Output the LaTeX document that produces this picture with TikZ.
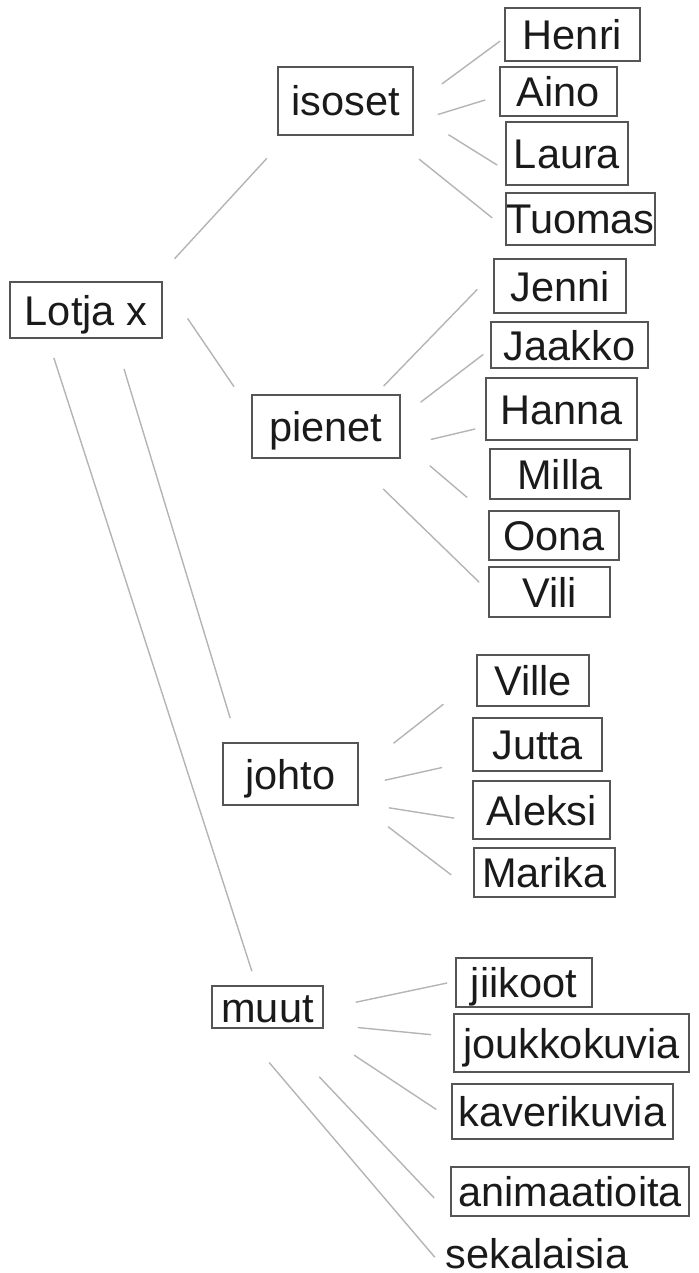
\documentclass[tikz,border=0pt]{standalone}
\usepackage{fontspec}
\newfontfamily\namefont{Liberation Sans}
\usetikzlibrary{positioning}

\definecolor{boxgray}{HTML}{555555}
\definecolor{linkgray}{HTML}{B4B4B4}
\definecolor{inkgray}{HTML}{1A1A1A}

\begin{document}
\begin{tikzpicture}[
    x=0.5pt, y=-0.5pt,
    namebox/.style={
        rectangle,
        draw=boxgray,
        line width=0.85pt,
        inner sep=0pt,
        text height=15pt,
        text depth=0pt,
        text=inkgray,
        font=\namefont\fontsize{20.75pt}{24pt}\selectfont
    },
    link/.style={draw=linkgray, line width=0.7pt}
]
\useasboundingbox (0,0) rectangle (699,1273);

% Root
\node[namebox, minimum width=76pt, minimum height=28pt] (lotja) at (86,310) {Lotja x};

% Groups
\node[namebox, minimum width=67.5pt, minimum height=34pt] (isoset) at (345.5,101) {isoset};
\node[namebox, minimum width=74pt, minimum height=31.5pt] (pienet) at (326,426.5) {pienet};
\node[namebox, minimum width=67.5pt, minimum height=31pt] (johto) at (290.5,774) {johto};
\node[namebox, minimum width=55.5pt, minimum height=21pt] (muut) at (267.5,1007) {muut};

% isoset
\node[namebox, minimum width=67.5pt, minimum height=26.5pt] (henri) at (572.5,34.5) {Henri};
\node[namebox, minimum width=58.5pt, minimum height=24.5pt] (aino) at (558.5,91.5) {Aino};
\node[namebox, minimum width=61pt, minimum height=31.5pt] (laura) at (567,153.5) {Laura};
\node[namebox, minimum width=74.5pt, minimum height=26pt] (tuomas) at (580.5,219) {Tuomas};

% pienet
\node[namebox, minimum width=66pt, minimum height=27pt] (jenni) at (560,286) {Jenni};
\node[namebox, minimum width=78.5pt, minimum height=23pt] (jaakko) at (569.5,345) {Jaakko};
\node[namebox, minimum width=75.5pt, minimum height=31pt] (hanna) at (561.5,409) {Hanna};
\node[namebox, minimum width=70pt, minimum height=25pt] (milla) at (560,474) {Milla};
\node[namebox, minimum width=65pt, minimum height=24.5pt] (oona) at (554,535.5) {Oona};
\node[namebox, minimum width=60.5pt, minimum height=25pt] (vili) at (549.5,592) {Vili};

% johto
\node[namebox, minimum width=56pt, minimum height=25.5pt] (ville) at (533,680.5) {Ville};
\node[namebox, minimum width=64.5pt, minimum height=26.5pt] (jutta) at (537.5,744.5) {Jutta};
\node[namebox, minimum width=68.5pt, minimum height=29pt] (aleksi) at (541.5,810) {Aleksi};
\node[namebox, minimum width=70.5pt, minimum height=24.5pt] (marika) at (544.5,872.5) {Marika};

% muut
\node[namebox, minimum width=68pt, minimum height=24.5pt] (jiikoot) at (524,982.5) {jiikoot};
\node[namebox, minimum width=117.5pt, minimum height=29pt] (joukko) at (571.5,1043) {joukkokuvia};
\node[namebox, minimum width=110.5pt, minimum height=27.5pt] (kaveri) at (562.5,1111.5) {kaverikuvia};
\node[namebox, minimum width=119pt, minimum height=24.5pt] (anim) at (570,1191.5) {animaatioita};
\node[namebox, draw=none, text height=, text depth=, anchor=base] (sekal) at (537,1268) {sekalaisia};

% Links from the root
\draw[link, shorten <=15.2pt, shorten >=15.2pt] (lotja.23.3) -- (isoset.211.9);
\draw[link, shorten <=22pt, shorten >=15.3pt] (lotja.20.6) -- (pienet.169.9);
\draw[link, shorten <=15.7pt, shorten >=12.6pt] (lotja.-45.2) -- (johto.149.2);
\draw[link, shorten <=10pt, shorten >=7.3pt] (lotja.217.8) -- (muut.117.6);

% Links from isoset
\draw[link, shorten <=17.4pt, shorten >=2.5pt] (isoset.-3.8) -- (henri.183.1);
\draw[link, shorten <=12.5pt, shorten >=7.3pt] (isoset.-17.5) -- (aino.184.1);
\draw[link, shorten <=20.4pt, shorten >=4.7pt] (isoset.-10.9) -- (laura.195);
\draw[link, shorten <=18.5pt, shorten >=8.3pt] (isoset.-38.7) -- (tuomas.187.1);

% Links from pienet
\draw[link, shorten <=5.6pt, shorten >=11.4pt] (pienet.33.2) -- (jenni.169.5);
\draw[link, shorten <=12.4pt, shorten >=4.3pt] (pienet.7.5) -- (jaakko.183.6);
\draw[link, shorten <=15.4pt, shorten >=5.1pt] (pienet.-15.6) -- (hanna.193.1);
\draw[link, shorten <=19pt, shorten >=13.8pt] (pienet.-11.5) -- (oona.163.9);
\draw[link, shorten <=21.6pt, shorten >=6.3pt] (pienet.-51.6) -- (vili.179.7);

% Links from johto
\draw[link, shorten <=22pt, shorten >=20.8pt] (johto.3.6) -- (ville.178.3);
\draw[link, shorten <=13.3pt, shorten >=15.4pt] (johto.-10.7) -- (jutta.194.7);
\draw[link, shorten <=15.2pt, shorten >=9.1pt] (johto.-23.3) -- (aleksi.189.9);
\draw[link, shorten <=18.3pt, shorten >=13.8pt] (johto.-24.7) -- (marika.195.9);

% Links from muut
\draw[link, shorten <=16.3pt, shorten >=4.1pt] (muut.-2.6) -- (jiikoot.179.9);
\draw[link, shorten <=17.1pt, shorten >=11.1pt] (muut.-17.4) -- (joukko.177.7);
\draw[link, shorten <=23.8pt, shorten >=8.9pt] (muut.-25.7) -- (kaveri.184.3);
\draw[link, shorten <=33.1pt, shorten >=11.6pt] (muut.-74.3) -- (anim.191.1);
\draw[link, shorten <=22.1pt, shorten >=7.9pt] (muut.219.1) -- (sekal.south west);

\end{tikzpicture}
\end{document}
